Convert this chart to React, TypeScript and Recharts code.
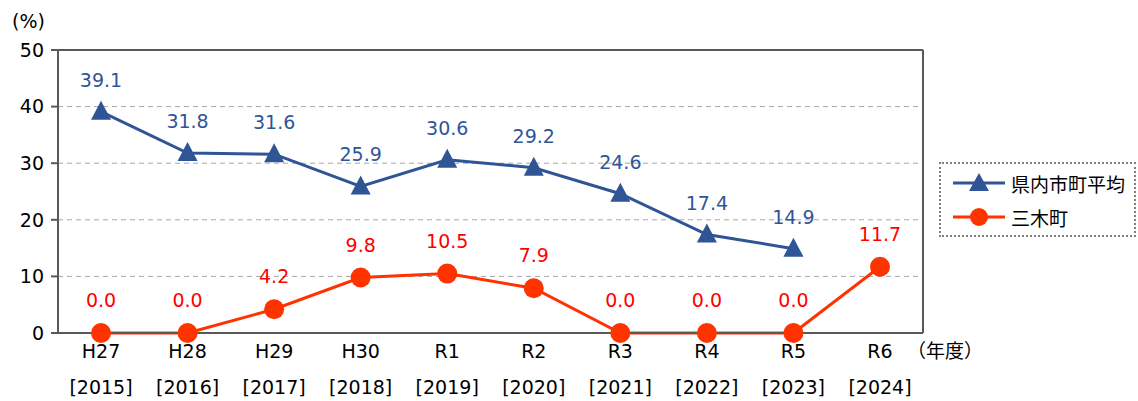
import React from 'react';
import {
  LineChart,
  Line,
  XAxis,
  YAxis,
  CartesianGrid,
  LabelList,
} from 'recharts';

const eraLabels = ['H27', 'H28', 'H29', 'H30', 'R1', 'R2', 'R3', 'R4', 'R5', 'R6'];
const yearLabels = ['2015', '2016', '2017', '2018', '2019', '2020', '2021', '2022', '2023', '2024'];
const prefAverage = [39.1, 31.8, 31.6, 25.9, 30.6, 29.2, 24.6, 17.4, 14.9, null];
const mikiTown = [0.0, 0.0, 4.2, 9.8, 10.5, 7.9, 0.0, 0.0, 0.0, 11.7];
const yTicks = [0, 10, 20, 30, 40, 50];

const BLUE = '#2F5597';
const ORANGE = '#FF3300';
const LABEL_RED = '#FF0000';
const FRAME = '#595959';
const FONT = '"DejaVu Sans", "Noto Sans CJK JP", sans-serif';
const FS = 19;

const data = eraLabels.map((era, i) => ({
  era,
  year: yearLabels[i],
  pref: prefAverage[i],
  miki: mikiTown[i],
}));

const Triangle = (props: any) => {
  const { cx, cy } = props;
  if (cx == null || cy == null) return null;
  return (
    <path
      d={`M${cx},${cy - 11} L${cx + 10},${cy + 8} L${cx - 10},${cy + 8} Z`}
      fill={BLUE}
    />
  );
};

const Dot = (props: any) => {
  const { cx, cy } = props;
  if (cx == null || cy == null) return null;
  return <circle cx={cx} cy={cy} r={10} fill={ORANGE} />;
};

const XTick = (props: any) => {
  const { x, y, payload, index } = props;
  const row = data[index] || data.find((d) => d.era === payload.value);
  return (
    <g>
      <text x={x} y={y + 17} textAnchor="middle" fontSize={FS} fill="#000" fontFamily={FONT}>
        {payload.value}
      </text>
      <text x={x} y={y + 53} textAnchor="middle" fontSize={FS} fill="#000" fontFamily={FONT}>
        [{row ? row.year : ''}]
      </text>
      {payload.value === 'R6' && (
        <text x={x + 65} y={y + 17} textAnchor="middle" fontSize={FS} fill="#000" fontFamily={FONT}>
          （年度）
        </text>
      )}
    </g>
  );
};

const makeLabel = (color: string, offset: number) => (props: any) => {
  const { x, y, value } = props;
  if (value == null) return null;
  return (
    <text x={x} y={y - offset} textAnchor="middle" fontSize={FS} fill={color} fontFamily={FONT}>
      {Number(value).toFixed(1)}
    </text>
  );
};

const LegendBox = () => (
  <div
    style={{
      position: 'absolute',
      left: 939,
      top: 162,
      width: 197,
      height: 75,
      border: '2px dotted #7F7F7F',
      boxSizing: 'border-box',
      fontFamily: FONT,
      fontSize: FS,
      color: '#000',
    }}
  >
    <div style={{ display: 'flex', alignItems: 'center', height: 34, marginTop: 2 }}>
      <svg width={56} height={24} style={{ marginLeft: 10 }}>
        <line x1={2} y1={12} x2={54} y2={12} stroke={BLUE} strokeWidth={3} />
        <path d="M28,2 L38,20 L18,20 Z" fill={BLUE} />
      </svg>
      <span style={{ marginLeft: 4 }}>県内市町平均</span>
    </div>
    <div style={{ display: 'flex', alignItems: 'center', height: 34 }}>
      <svg width={56} height={24} style={{ marginLeft: 10 }}>
        <line x1={2} y1={12} x2={54} y2={12} stroke={ORANGE} strokeWidth={3} />
        <circle cx={28} cy={12} r={9} fill={ORANGE} />
      </svg>
      <span style={{ marginLeft: 4 }}>三木町</span>
    </div>
  </div>
);

export default function App() {
  return (
    <div style={{ position: 'absolute', left: 0, top: 0, width: 1138, height: 401, background: '#fff' }}>
      <div
        style={{
          position: 'absolute',
          left: 12,
          top: 10,
          fontFamily: FONT,
          fontSize: FS,
          color: '#000',
          lineHeight: '22px',
        }}
      >
        (%)
      </div>
      <LineChart
        width={1138}
        height={401}
        data={data}
        margin={{ top: 49, right: 214, bottom: 0, left: 0 }}
      >
        <CartesianGrid vertical={false} stroke="#A6A6A6" strokeDasharray="5 4" />
        <XAxis
          dataKey="era"
          height={68}
          axisLine={{ stroke: FRAME, strokeWidth: 2 }}
          tickLine={false}
          interval={0}
          padding={{ left: 43, right: 43 }}
          tick={<XTick />}
        />
        <XAxis
          xAxisId="top"
          dataKey="era"
          orientation="top"
          height={1}
          axisLine={{ stroke: FRAME, strokeWidth: 2 }}
          tickLine={false}
          tick={false}
          padding={{ left: 43, right: 43 }}
        />
        <YAxis
          width={58}
          domain={[0, 50]}
          ticks={yTicks}
          axisLine={{ stroke: FRAME, strokeWidth: 2 }}
          tickLine={{ stroke: FRAME, strokeWidth: 2 }}
          tickSize={7}
          tickMargin={7}
          tick={{ fontSize: FS, fill: '#000', fontFamily: FONT }}
        />
        <YAxis
          yAxisId="right"
          orientation="right"
          width={1}
          domain={[0, 50]}
          ticks={yTicks}
          axisLine={{ stroke: FRAME, strokeWidth: 2 }}
          tickLine={false}
          tick={false}
        />
        <Line
          type="linear"
          dataKey="pref"
          name="県内市町平均"
          stroke={BLUE}
          strokeWidth={3}
          dot={<Triangle />}
          activeDot={false}
          isAnimationActive={false}
        >
          <LabelList dataKey="pref" content={makeLabel(BLUE, 25)} />
        </Line>
        <Line
          type="linear"
          dataKey="miki"
          name="三木町"
          stroke={ORANGE}
          strokeWidth={3}
          dot={<Dot />}
          activeDot={false}
          isAnimationActive={false}
        >
          <LabelList dataKey="miki" content={makeLabel(LABEL_RED, 26)} />
        </Line>
      </LineChart>
      <LegendBox />
    </div>
  );
}
